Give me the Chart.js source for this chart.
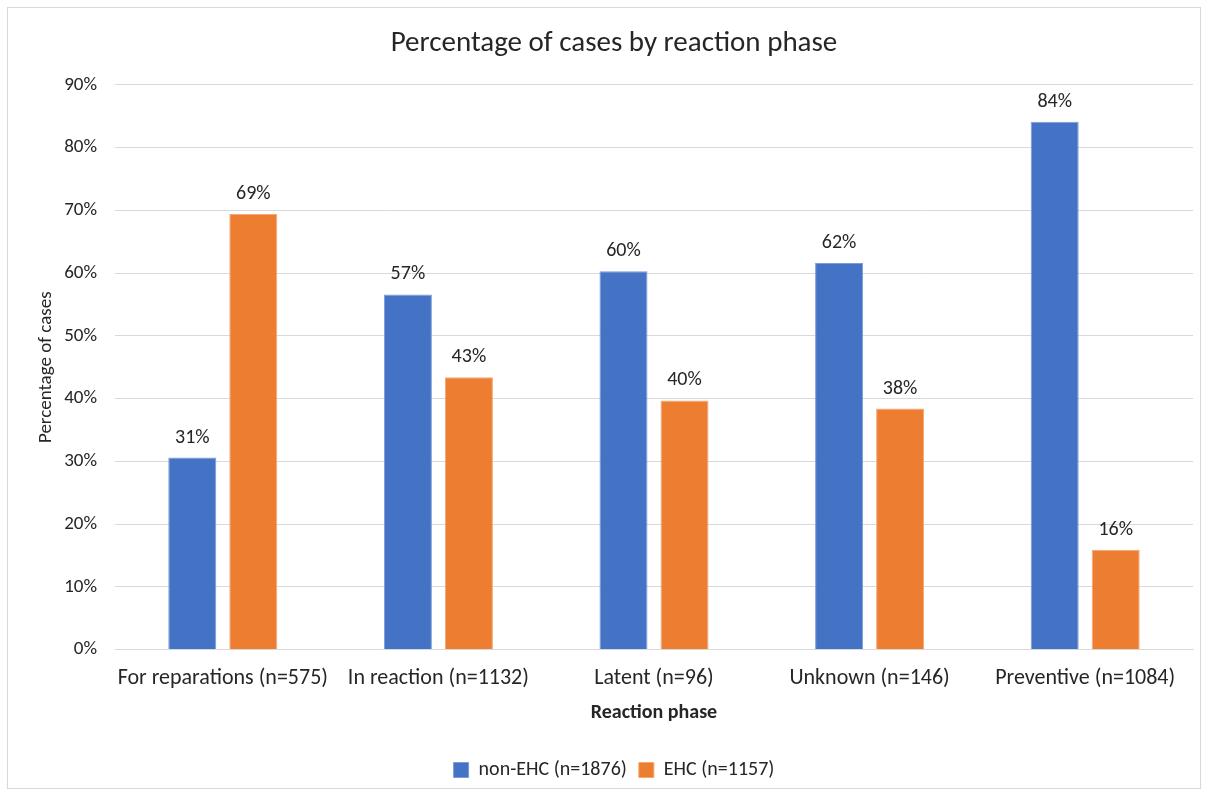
<!DOCTYPE html>
<html>
<head>
<meta charset="utf-8">
<script src="https://cdn.jsdelivr.net/npm/chart.js@4"></script>
<style>
  html, body { margin: 0; padding: 0; background: #fff; }
  .frame {
    position: absolute; left: 7px; top: 7px;
    width: 1192px; height: 780px;
    border: 1px solid #d9d9d9;
  }
  #chart { position: absolute; left: 0; top: 0; }
</style>
</head>
<body>
<div class="frame"></div>
<canvas id="chart" width="1208" height="795"></canvas>
<script>
// reaction phases and share of cases (percent)
const phases = ['For reparations (n=575)', 'In reaction (n=1132)', 'Latent (n=96)', 'Unknown (n=146)', 'Preventive (n=1084)'];
const nonEhc = [30.6, 56.6, 60.3, 61.6, 84.1];
const ehc = [69.4, 43.4, 39.7, 38.4, 15.9];
const seriesNames = ['non-EHC (n=1876)', 'EHC (n=1157)'];
const yTicks = [0, 10, 20, 30, 40, 50, 60, 70, 80, 90];

const FONT = "Carlito, 'Open Sans', 'Liberation Sans', sans-serif";
const TEXT = '#262626';

// value labels above each bar
const barLabels = {
    id: 'barLabels',
    afterDatasetsDraw(chart) {
        const ctx = chart.ctx;
        ctx.save();
        ctx.font = '20px ' + FONT;
        ctx.fillStyle = TEXT;
        ctx.textAlign = 'center';
        ctx.textBaseline = 'bottom';
        chart.data.datasets.forEach((ds, i) => {
            chart.getDatasetMeta(i).data.forEach((bar, j) => {
                ctx.fillText(Math.round(ds.data[j]) + '%', bar.x, bar.y - 10);
            });
        });
        ctx.restore();
    }
};

new Chart(document.getElementById('chart'), {
    type: 'bar',
    data: {
        labels: phases,
        datasets: [
            { label: seriesNames[0], data: nonEhc, backgroundColor: '#4472c4', borderColor: '#7a9bd6', borderWidth: 1 },
            { label: seriesNames[1], data: ehc, backgroundColor: '#ed7d31', borderColor: '#f3a775', borderWidth: 1 }
        ]
    },
    options: {
        responsive: false,
        animation: false,
        categoryPercentage: 0.566,
        barPercentage: 0.787,
        layout: { padding: { left: 35, right: 15, top: 26, bottom: 5 } },
        plugins: {
            title: {
                display: true,
                text: 'Percentage of cases by reaction phase',
                color: TEXT,
                font: { family: FONT, size: 29, weight: 'normal' },
                padding: { top: 0, bottom: 24 }
            },
            legend: {
                position: 'bottom',
                labels: {
                    color: TEXT,
                    font: { family: FONT, size: 20 },
                    boxWidth: 15, boxHeight: 15,
                    padding: 12
                }
            },
            tooltip: { enabled: false }
        },
        scales: {
            x: {
                grid: { display: false },
                border: { color: '#d9d9d9' },
                ticks: { color: TEXT, font: { family: FONT, size: 22 }, padding: 8, maxRotation: 0, minRotation: 0, autoSkip: false },
                title: {
                    display: true, text: 'Reaction phase', color: TEXT,
                    font: { family: FONT, size: 20, weight: 'bold' },
                    padding: { top: 1, bottom: 23 }
                }
            },
            y: {
                min: 0, max: 90,
                afterBuildTicks(axis) { axis.ticks = yTicks.map(v => ({ value: v })); },
                afterFit(axis) { axis.width = 80; },
                grid: { color: '#d9d9d9', drawTicks: false },
                border: { display: false },
                ticks: { color: TEXT, font: { family: FONT, size: 19 }, padding: 18, callback: v => v + '%' },
                title: {
                    display: true, text: 'Percentage of cases', color: TEXT,
                    font: { family: FONT, size: 19 }, padding: { top: 0, bottom: 0 }
                }
            }
        }
    },
    plugins: [barLabels]
});
</script>
</body>
</html>
